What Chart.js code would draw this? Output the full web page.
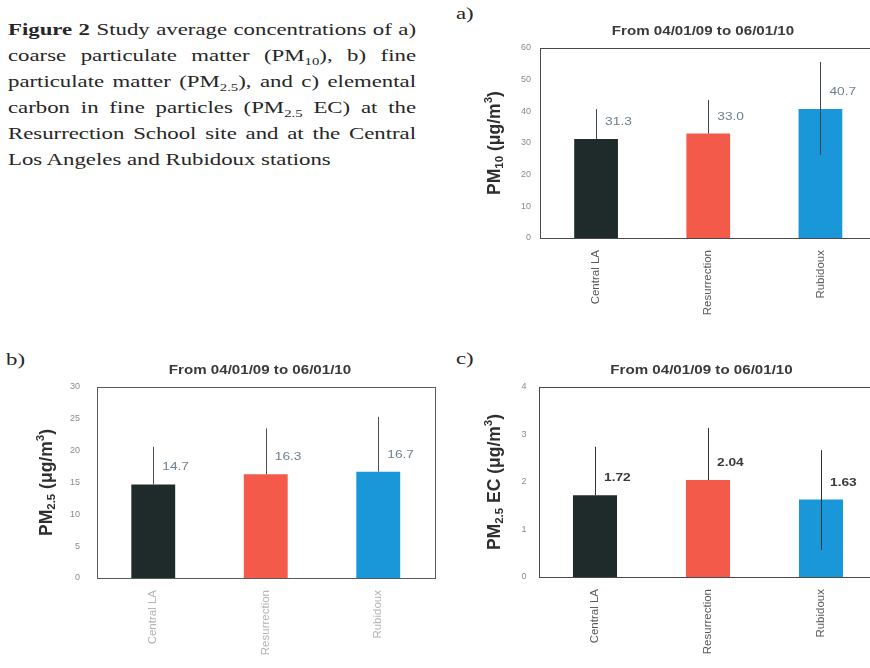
<!DOCTYPE html>
<html>
<head>
<meta charset="utf-8">
<script src="https://cdn.jsdelivr.net/npm/chart.js@4.4.1/dist/chart.umd.min.js"></script>
<style>
  html, body { margin: 0; padding: 0; width: 870px; height: 668px; overflow: hidden; background: #ffffff; }
  canvas { position: absolute; }
  .caption { position: absolute; left: 8px; top: 17px; width: 304.5px; transform: scaleX(1.34); transform-origin: 0 0;
             font: 17px "Liberation Serif", "Times New Roman", serif; line-height: 26px; color: #262626; }
  .caption div { text-align: justify; text-align-last: justify; white-space: nowrap; }
  .caption div.last { text-align: left; text-align-last: left; }
  .caption sub { font-size: 11px; line-height: 0; }
  .panel { position: absolute; font: 17px "Liberation Serif", serif; color: #262626; transform: scaleX(1.34); transform-origin: 0 0; }
</style>
</head>
<body>
<div class="caption">
  <div><b>Figure 2</b> Study average concentrations of a)</div>
  <div>coarse particulate matter (PM<sub>10</sub>), b) fine</div>
  <div>particulate matter (PM<sub>2.5</sub>), and c) elemental</div>
  <div>carbon in fine particles (PM<sub>2.5</sub> EC) at the</div>
  <div>Resurrection School site and at the Central</div>
  <div class="last">Los Angeles and Rubidoux stations</div>
</div>
<div class="panel" style="left:456px; top:4px;">a)</div>
<div class="panel" style="left:6px; top:350px;">b)</div>
<div class="panel" style="left:456px; top:349px;">c)</div>

<canvas id="chartA" width="430" height="335" style="left:450px; top:0px;"></canvas>
<canvas id="chartB" width="440" height="318" style="left:0px; top:350px;"></canvas>
<canvas id="chartC" width="440" height="318" style="left:440px; top:350px;"></canvas>

<script>
// Monitoring sites
const sites = ['Central LA', 'Resurrection', 'Rubidoux'];
const siteColors = ['#1f2b2b', '#f45a49', '#1a97d8'];
const periodTitle = 'From 04/01/09 to 06/01/10';

// a) PM10 study averages with error bar arms (upper / visible lower)
const pm10 = [31.3, 33.0, 40.7];
const pm10Upper = [9.4, 10.6, 14.9];
const pm10Lower = [0, 0, 14.5];
const pm10Ticks = [0, 10, 20, 30, 40, 50, 60];

// b) PM2.5 study averages
const pm25 = [14.7, 16.3, 16.7];
const pm25Upper = [5.9, 7.2, 8.6];
const pm25Lower = [0, 0, 0];
const pm25Ticks = [0, 5, 10, 15, 20, 25, 30];

// c) PM2.5 elemental carbon study averages
const ec = [1.72, 2.04, 1.63];
const ecUpper = [1.02, 1.10, 1.04];
const ecLower = [0, 0, 1.06];
const ecTicks = [0, 1, 2, 3, 4];

Chart.defaults.font.family = '"Liberation Sans", Arial, sans-serif';
Chart.defaults.devicePixelRatio = 1;

// horizontally widened text, anchored at (x, y)
function wideText(ctx, text, x, y, stretch) {
  ctx.save();
  ctx.translate(x, y);
  ctx.scale(stretch, 1);
  ctx.fillText(text, 0, 0);
  ctx.restore();
}

// Frame, error bars, value labels, title and a rich-text y-axis title
const decorPlugin = {
  id: 'decor',
  beforeDatasetsDraw(chart, args, opts) {
    const { ctx, chartArea: a } = chart;
    ctx.save();
    ctx.strokeStyle = opts.frameColor;
    ctx.lineWidth = 1;
    ctx.strokeRect(Math.round(a.left) + 0.5, Math.round(a.top) + 0.5,
                   Math.round(a.right - a.left), Math.round(a.bottom - a.top));
    ctx.restore();
  },
  afterDatasetsDraw(chart, args, opts) {
    const { ctx, chartArea: a } = chart;
    const yScale = chart.scales.y;
    const ds = chart.data.datasets[0];
    const meta = chart.getDatasetMeta(0);
    ctx.save();
    // error bars
    ctx.strokeStyle = opts.errColor;
    ctx.lineWidth = 1;
    meta.data.forEach((bar, i) => {
      const v = ds.data[i];
      const x = Math.round(bar.x) + 0.5;
      const yTop = yScale.getPixelForValue(v + ds.errUpper[i]);
      const yBot = yScale.getPixelForValue(v - ds.errLower[i]);
      ctx.beginPath();
      ctx.moveTo(x, yTop);
      ctx.lineTo(x, yBot);
      ctx.stroke();
    });
    // value labels
    ctx.fillStyle = opts.valueColor;
    ctx.font = opts.valueFont;
    ctx.textAlign = 'left';
    ctx.textBaseline = 'middle';
    meta.data.forEach((bar, i) => {
      wideText(ctx, ds.data[i].toFixed(opts.decimals), bar.x + 9, bar.y - 17, 1.25);
    });
    // chart title
    ctx.fillStyle = '#3a3a3a';
    ctx.font = 'bold 12px "Liberation Sans", Arial, sans-serif';
    ctx.textAlign = 'center';
    wideText(ctx, periodTitle, a.left + 163, a.top - 16, 1.26);
    // y-axis title with sub/superscripts
    const base = 17.5, small = 11.5;
    const parts = opts.yTitle;
    const fontFor = (kind) => 'bold ' + (kind ? small : base) + 'px "Liberation Sans", Arial, sans-serif';
    let total = 0;
    parts.forEach(([t, kind]) => { ctx.font = fontFor(kind); total += ctx.measureText(t).width; });
    ctx.translate(a.left - opts.yTitleOffset, (a.top + a.bottom) / 2);
    ctx.rotate(-Math.PI / 2);
    ctx.textAlign = 'left';
    ctx.textBaseline = 'middle';
    ctx.fillStyle = '#2e2e2e';
    let x = -total / 2;
    parts.forEach(([t, kind]) => {
      ctx.font = fontFor(kind);
      const dy = kind === 1 ? 5 : kind === 2 ? -6 : 0;
      ctx.fillText(t, x, dy);
      x += ctx.measureText(t).width;
    });
    ctx.restore();
  }
};

function makeChart(id, values, upper, lower, ticks, cfg) {
  return new Chart(document.getElementById(id), {
    type: 'bar',
    data: {
      labels: sites,
      datasets: [{
        data: values,
        errUpper: upper,
        errLower: lower,
        backgroundColor: siteColors,
        borderWidth: 0,
        barPercentage: 0.39,
        categoryPercentage: 1.0
      }]
    },
    options: {
      responsive: false,
      animation: false,
      layout: { padding: { left: 0, right: cfg.padRight, top: cfg.padTop, bottom: 0 } },
      plugins: {
        legend: { display: false },
        tooltip: { enabled: false },
        decor: cfg.decor
      },
      scales: {
        x: {
          grid: { display: false, drawTicks: false },
          border: { display: false },
          ticks: {
            minRotation: 90, maxRotation: 90, padding: 12,
            color: cfg.xLabelColor,
            font: { size: 11.5 }
          },
          afterFit(s) { s.height = cfg.xHeight; }
        },
        y: {
          min: ticks[0],
          max: ticks[ticks.length - 1],
          grid: { display: false, drawTicks: false },
          border: { display: false },
          afterBuildTicks(s) { s.ticks = ticks.map(v => ({ value: v })); },
          ticks: { padding: cfg.tickPad, color: '#8a8a8a', font: { size: 9 } },
          afterFit(s) { s.width = cfg.yWidth; }
        }
      }
    },
    plugins: [decorPlugin]
  });
}

makeChart('chartA', pm10, pm10Upper, pm10Lower, pm10Ticks, {
  padRight: 3.5, padTop: 48, xHeight: 97, yWidth: 90, tickPad: 9,
  xLabelColor: '#5a5a5a',
  decor: {
    frameColor: '#4a4a4a', errColor: '#3c4650', valueColor: '#6e8090',
    valueFont: '11px "Liberation Sans", Arial, sans-serif', decimals: 1,
    yTitle: [['PM', 0], ['10', 1], [' (μg/m', 0], ['3', 2], [')', 0]], yTitleOffset: 45
  }
});

makeChart('chartB', pm25, pm25Upper, pm25Lower, pm25Ticks, {
  padRight: 5.5, padTop: 37, xHeight: 90, yWidth: 97, tickPad: 17,
  xLabelColor: '#b4b4b4',
  decor: {
    frameColor: '#5a5a5a', errColor: '#4a4f55', valueColor: '#6e8090',
    valueFont: '11px "Liberation Sans", Arial, sans-serif', decimals: 1,
    yTitle: [['PM', 0], ['2.5', 1], [' (μg/m', 0], ['3', 2], [')', 0]], yTitleOffset: 50
  }
});

makeChart('chartC', ec, ecUpper, ecLower, ecTicks, {
  padRight: 2.5, padTop: 37, xHeight: 91, yWidth: 98.5, tickPad: 12,
  xLabelColor: '#5a5a5a',
  decor: {
    frameColor: '#4a4a4a', errColor: '#2e3338', valueColor: '#3a3a3a',
    valueFont: 'bold 11px "Liberation Sans", Arial, sans-serif', decimals: 2,
    yTitle: [['PM', 0], ['2.5', 1], [' EC (μg/m', 0], ['3', 2], [')', 0]], yTitleOffset: 43.5
  }
});
</script>
</body>
</html>
